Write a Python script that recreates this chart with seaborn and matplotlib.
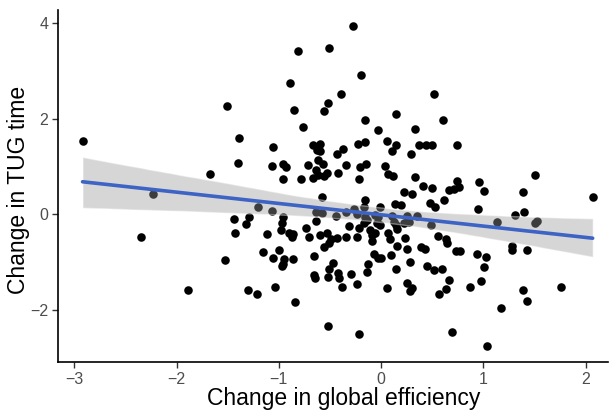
import numpy as np
import pandas as pd
import seaborn as sns
import matplotlib
matplotlib.use("Agg")
import matplotlib.pyplot as plt


# --- DATA ---
efficiency_change = [
    -2.92, -1.51, -1.39, -1.40, -1.67, -2.23, -0.27, -0.81, -0.51, -0.89,
    -0.20, -0.39, -0.52, -0.56, -0.85, 0.52, -0.16, 0.15, -0.76, -0.03,
    0.33, -1.06, -0.67, -0.60, -0.63, -0.60, -0.43, -0.37, -0.23, -0.16,
    0.06, 0.15, 0.11, 0.29, 0.37, 0.44, 0.50, -1.07, -0.96, -0.93,
    -0.96, -0.71, -0.62, -0.57, -0.64, -0.53, -0.56, -0.67, -0.62, -0.78,
    -0.42, -0.34, -0.21, -0.15, -0.22, 0.04, 0.07, 0.12, 0.33, 0.41,
    0.50, 0.22, 0.30, -0.58, -0.16, 0.61, 0.74, 1.51, 0.66, 0.71,
    0.76, 0.74, 0.96, 1.01, 1.39, 0.62, 2.07, 0.48, 0.53, 0.14,
    0.20, -0.01, 0.95, 1.31, 1.40, -1.20, -1.07, -0.64, -0.58, -0.44,
    -0.34, -0.26, -0.24, -0.17, -0.16, -0.14, -0.17, -0.03, -0.01, 0.11,
    0.13, 0.15, 0.25, 0.27, 0.22, 0.35, 0.49, 1.13, 1.51, 1.53,
    -1.29, -1.32, -1.44, -0.96, -0.97, -0.98, -0.64, -0.73, -0.70, -0.31,
    -0.22, -0.06, -0.04, -1.43, -2.35, -1.12, -0.90, -0.86, -0.87, -0.60,
    -0.53, -0.49, -0.43, -0.56, -0.51, -0.34, -0.24, -0.11, -0.09, -0.09,
    -0.06, 0.07, 0.09, 0.16, 0.23, 0.25, 0.16, 0.10, 0.39, 0.43,
    0.28, 0.15, 0.45, 0.52, 0.06, 0.25, 0.30, 0.28, 0.57, -0.07,
    -0.03, 0.00, -0.13, -0.14, -1.15, -1.06, -1.00, -0.95, -0.96, -0.97,
    -0.86, -0.66, -0.66, -0.65, -0.52, -0.47, -0.51, -0.42, -0.41,
    -0.38, -0.29, -0.24, -1.30, -1.21, -1.04, -0.84, -0.52, -0.22, -1.53,
    -1.89, 0.56, 0.64, 0.65, 0.73, 0.77, 0.94, 1.03, 1.28, 1.28,
    1.43, 0.60, 1.01, 0.66, 0.64, 0.87, 0.98, 1.39, 1.43, 1.76,
    1.17, 0.69, 1.04,
]

tug_change = [
    1.53, 2.27, 1.60, 1.08, 0.84, 0.43, 3.95, 3.42, 3.48, 2.75,
    2.91, 2.51, 2.33, 2.16, 2.18, 2.51, 1.98, 2.11, 1.82, 1.76,
    1.78, 1.41, 1.46, 1.48, 1.35, 1.33, 1.26, 1.36, 1.48, 1.51,
    1.54, 1.45, 1.32, 1.26, 1.45, 1.44, 1.44, 1.00, 1.05, 0.99,
    0.74, 1.03, 1.14, 1.06, 0.92, 0.86, 0.79, 0.76, 0.82, 0.74,
    0.86, 1.02, 0.99, 1.05, 0.74, 1.01, 0.85, 0.81, 0.77, 0.60,
    0.55, 0.46, 0.43, 0.36, 0.30, 1.97, 1.45, 0.83, 0.50, 0.53,
    0.56, 0.69, 0.68, 0.49, 0.46, 0.30, 0.36, 0.23, 0.16, 0.22,
    0.19, 0.15, 0.10, -0.02, 0.04, 0.15, 0.07, 0.04, 0.02, -0.04,
    0.04, 0.10, 0.00, 0.14, -0.05, -0.13, -0.18, -0.07, -0.22, -0.04,
    -0.17, -0.22, -0.04, -0.16, -0.19, -0.04, -0.23, -0.17, -0.19, -0.15,
    -0.05, -0.20, -0.11, -0.07, -0.19, -0.34, -0.14, -0.29, -0.47, -0.25,
    -0.30, -0.01, -0.19, -0.39, -0.47, -0.41, -0.39, -0.41, -0.48, -0.43,
    -0.39, -0.52, -0.50, -0.68, -0.60, -0.48, -0.47, -0.33, -0.44, -0.57,
    -0.40, -0.40, -0.52, -0.31, -0.50, -0.73, -0.66, -0.85, -0.68, -0.74,
    -1.00, -1.14, -1.09, -1.18, -1.55, -1.45, -1.54, -1.62, -1.67, -0.84,
    -0.92, -0.92, -1.05, -1.22, -0.80, -0.91, -0.76, -0.94, -1.04, -1.08,
    -0.94, -0.87, -1.27, -1.33, -1.32, -1.02, -1.14, -1.24, -1.33,
    -1.53, -1.25, -1.47, -1.60, -1.68, -1.53, -1.85, -2.34, -2.52, -0.97,
    -1.59, -0.46, -0.52, -0.61, -0.78, -0.78, -0.84, -0.89, -0.66, -0.76,
    -0.75, -1.15, -1.11, -1.39, -1.57, -1.52, -1.40, -1.59, -1.82, -1.53,
    -1.96, -2.48, -2.77,
]

x_ticks = [-3, -2, -1, 0, 1, 2]
y_ticks = [-2, 0, 2, 4]

df = pd.DataFrame({"efficiency": efficiency_change, "tug": tug_change})


# --- PLOT ---
sns.set_style("ticks")
plt.rcParams["font.family"] = ["Liberation Sans", "DejaVu Sans"]

fig = plt.figure(figsize=(6.14, 4.12), dpi=100)
ax = fig.add_axes([58 / 614, 50 / 412, 550 / 614, 352 / 412])

sns.regplot(
    data=df, x="efficiency", y="tug", ax=ax,
    color="black", ci=95, n_boot=2000, seed=7,
    scatter_kws={"s": 38, "alpha": 1, "linewidths": 0},
    line_kws={"color": "#3D63C4", "lw": 2.6},
)

# ribbon in ggplot grey
band = ax.collections[-1]
band.set_facecolor("#999999")
band.set_alpha(0.4)

ax.set_xlim(-3.16, 2.22)
ax.set_ylim(-3.10, 4.28)
ax.set_xticks(x_ticks)
ax.set_yticks(y_ticks)
ax.set_xlabel("Change in global efficiency", fontsize=16.5, color="black")
ax.set_ylabel("Change in TUG time", fontsize=16.5, color="black")
# the reference panel runs a bit past the right edge, so its x title sits right of centre
ax.xaxis.set_label_coords(0.52, -0.07)
ax.yaxis.set_label_coords(-0.05, 0.49)
ax.tick_params(axis="both", labelsize=11.5, labelcolor="#4D4D4D", color="#333333",
               length=4, width=1.0, pad=3)
sns.despine(ax=ax)
for side in ["left", "bottom"]:
    ax.spines[side].set_linewidth(1.2)
    ax.spines[side].set_color("black")

fig.savefig("out.png", dpi=100)
